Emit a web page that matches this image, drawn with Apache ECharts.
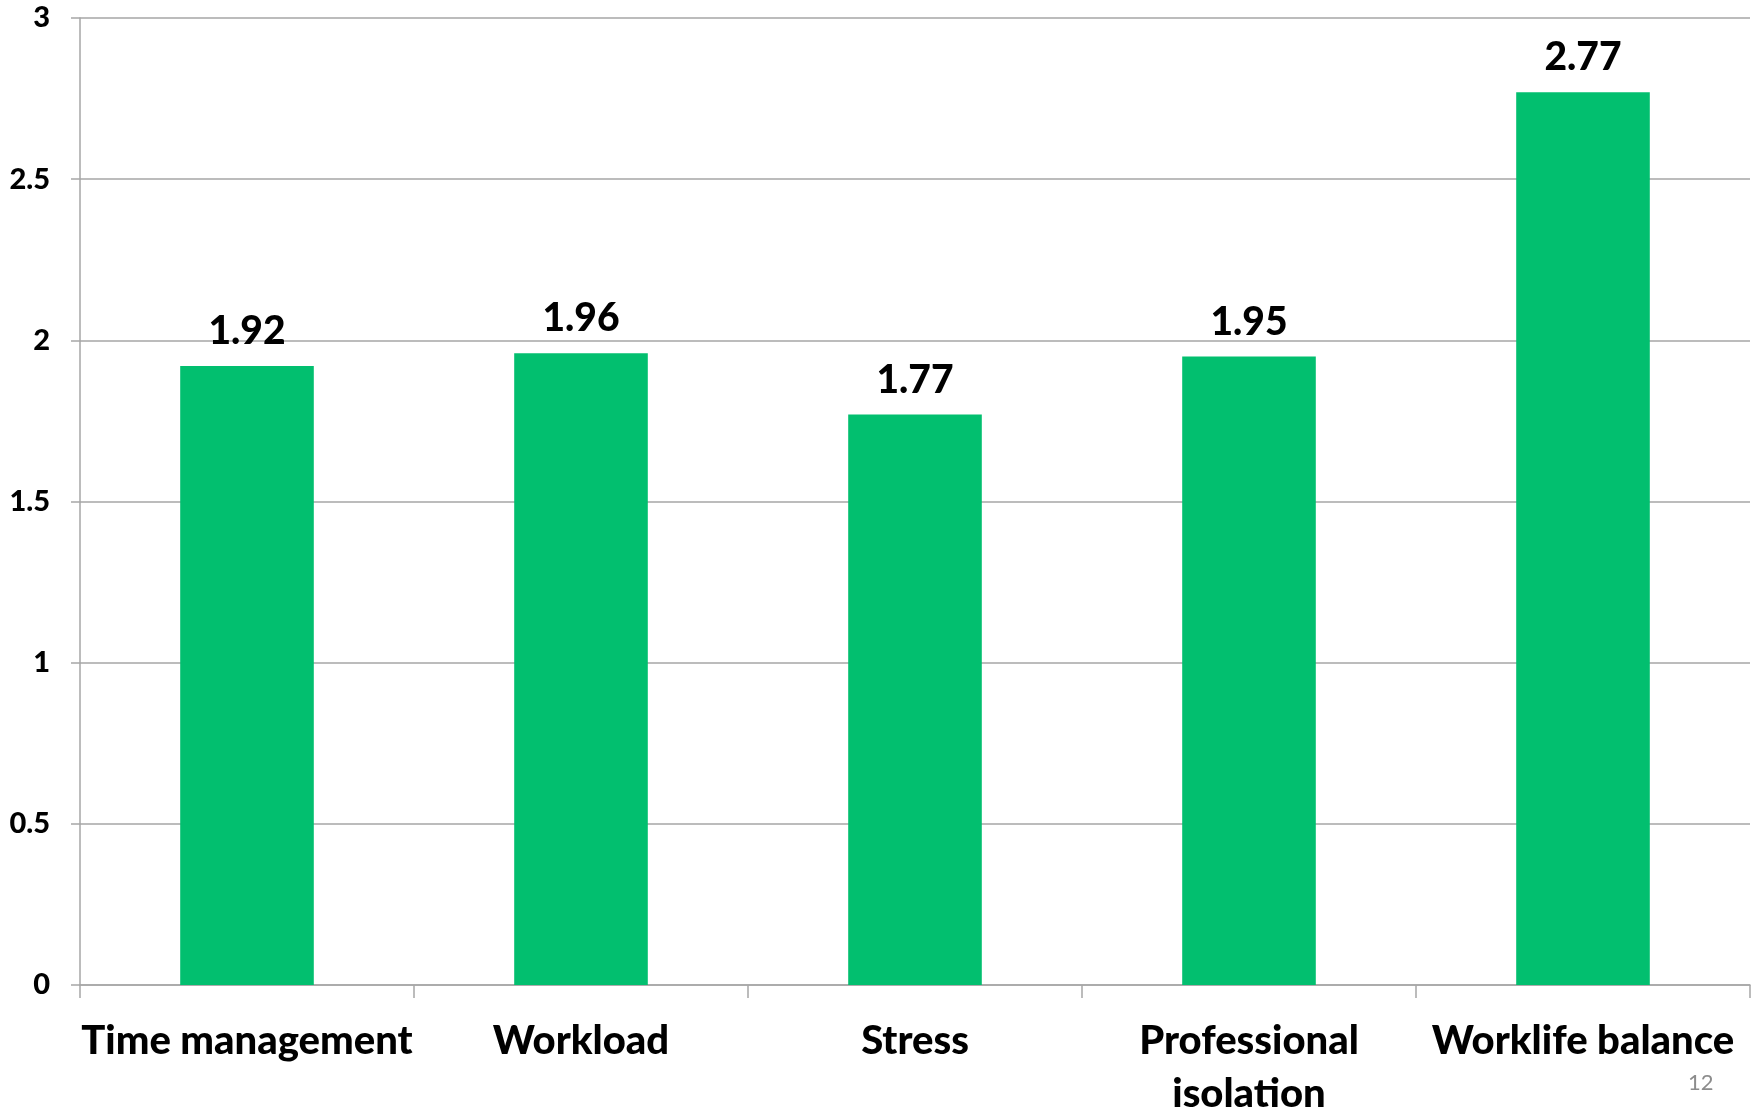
<!DOCTYPE html>
<html>
<head>
<meta charset="utf-8">
<script src="https://cdn.jsdelivr.net/npm/echarts@6/dist/echarts.min.js"></script>
<style>
html,body{margin:0;padding:0;background:#fff;}
#c{width:1752px;height:1110px;}
</style>
</head>
<body>
<div id="c"></div>
<script>
const categories = ['Time management', 'Workload', 'Stress', 'Professional\nisolation', 'Worklife balance'];
const values = [1.92, 1.96, 1.77, 1.95, 2.77];
const yTicks = ['0', '0.5', '1', '1.5', '2', '2.5', '3'];
const pageNumber = '12';

const chart = echarts.init(document.getElementById('c'));
chart.setOption({
  animation: false,
  backgroundColor: '#ffffff',
  grid: { left: 80, right: 2, top: 18, bottom: 125, containLabel: false, outerBoundsMode: 'none' },
  graphic: [{
    type: 'text', left: 1688, top: 1072,
    style: { text: pageNumber, fill: '#8c8c8c', font: '22px Lato' }
  }],
  xAxis: {
    type: 'category',
    data: categories,
    axisLine: { lineStyle: { color: '#a6a6a6', width: 1.5 } },
    axisTick: { show: true, length: 13, lineStyle: { color: '#a6a6a6', width: 1.5 } },
    axisLabel: {
      color: '#000', fontFamily: 'Lato', fontWeight: 900, fontSize: 40,
      lineHeight: 53, margin: 30, interval: 0
    },
    splitLine: { show: false }
  },
  yAxis: {
    type: 'value', min: 0, max: 3, interval: 0.5,
    axisLine: { show: true, lineStyle: { color: '#a6a6a6', width: 1.5 } },
    axisTick: { show: true, length: 9, lineStyle: { color: '#a6a6a6', width: 1.5 } },
    axisLabel: {
      color: '#000', fontFamily: 'Lato', fontWeight: 900, fontSize: 29, margin: 30,
      formatter: (v) => yTicks[Math.round(v / 0.5)]
    },
    splitLine: { lineStyle: { color: '#a6a6a6', width: 1.5 } }
  },
  series: [{
    type: 'bar',
    data: values,
    barWidth: '40%',
    itemStyle: { color: '#02bf6f' },
    label: {
      show: true, position: 'top', distance: 15,
      color: '#000', fontFamily: 'Lato', fontWeight: 900, fontSize: 39,
      formatter: (p) => p.value.toFixed(2)
    }
  }]
});
</script>
</body>
</html>
